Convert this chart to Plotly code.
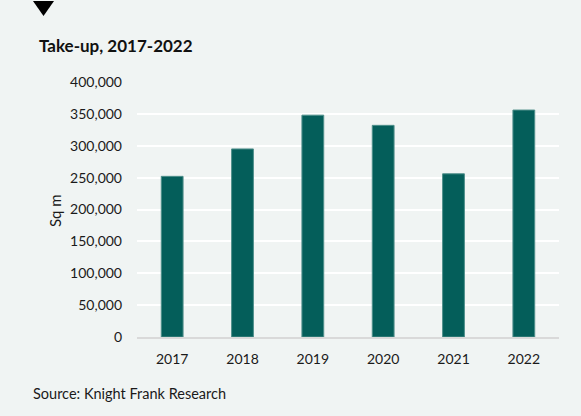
import plotly.graph_objects as go

years = ["2017", "2018", "2019", "2020", "2021", "2022"]
take_up = [252000, 295000, 348000, 332000, 256000, 356000]
y_ticks = [0, 50000, 100000, 150000, 200000, 250000, 300000, 350000, 400000]
y_tick_labels = ["0", "50,000", "100,000", "150,000", "200,000", "250,000", "300,000", "350,000", "400,000"]

W, H = 581, 416
L, R, T, B = 137, 22, 82, 79
pw, ph = W - L - R, H - T - B

def px(x):
    return (x - L) / pw

def py(y):
    return (H - B - y) / ph

bg = "#f0f4f3"
font = "Lato"

fig = go.Figure(go.Bar(
    x=years, y=take_up,
    marker=dict(color="#045e5a", line=dict(color="#4f8f8b", width=1)),
    width=0.31,
))

fig.update_layout(
    width=W, height=H,
    margin=dict(l=L, r=R, t=T, b=B),
    paper_bgcolor=bg, plot_bgcolor=bg,
    showlegend=False,
    font=dict(family=font, size=14, color="#1a1a1a"),
    xaxis=dict(showgrid=False, showline=True, linecolor="#d9d9d9", linewidth=2,
               ticks="", tickfont=dict(size=14), ticklabelstandoff=8),
    yaxis=dict(range=[0, 400000], tickvals=y_ticks, ticktext=y_tick_labels,
               showgrid=True, gridcolor="#ffffff", gridwidth=2, zeroline=False,
               ticks="", tickfont=dict(size=14), ticklabelstandoff=14),
    shapes=[dict(type="path", xref="paper", yref="paper",
                 path=f"M {px(33)} {py(1)} L {px(54)} {py(1)} L {px(43.5)} {py(16)} Z",
                 fillcolor="#000000", line=dict(width=0))],
    annotations=[
        dict(text="<b>Take-up, 2017-2022</b>", xref="paper", yref="paper",
             x=px(37), y=py(45), xanchor="left", yanchor="middle", showarrow=False,
             font=dict(size=17, color="#111111")),
        dict(text="Sq m", xref="paper", yref="paper", textangle=-90,
             x=px(55), y=py(211), xanchor="center", yanchor="middle", showarrow=False,
             font=dict(size=15, color="#1a1a1a")),
        dict(text="Source: Knight Frank Research", xref="paper", yref="paper",
             x=px(31), y=py(393), xanchor="left", yanchor="middle", showarrow=False,
             font=dict(size=14.5, color="#1a1a1a")),
    ],
)

fig.write_html("out.html")
